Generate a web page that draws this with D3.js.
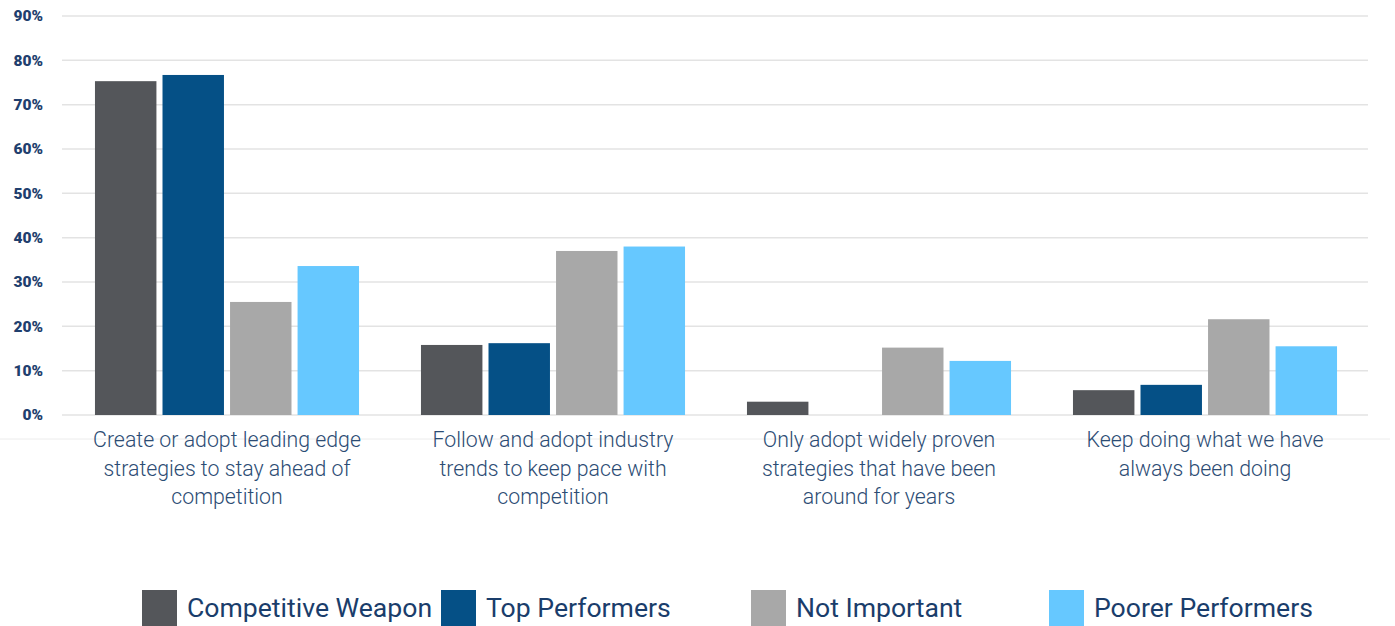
<!DOCTYPE html>
<html>
<head>
<meta charset="utf-8">
<script src="https://cdn.jsdelivr.net/npm/d3@7"></script>
<style>
  body { margin: 0; background: #fff; }
  svg { display: block; font-family: Roboto, "Open Sans", sans-serif; }
</style>
</head>
<body>
<div id="chart"></div>
<script>
const categories = [
  ['Create or adopt leading edge', 'strategies to stay ahead of', 'competition'],
  ['Follow and adopt industry', 'trends to keep pace with', 'competition'],
  ['Only adopt widely proven', 'strategies that have been', 'around for years'],
  ['Keep doing what we have', 'always been doing']
];
const seriesNames = ['Competitive Weapon', 'Top Performers', 'Not Important', 'Poorer Performers'];
const competitiveWeapon = [75.3, 15.8, 3.0, 5.6];
const topPerformers = [76.7, 16.2, 0, 6.8];
const notImportant = [25.5, 37.0, 15.2, 21.6];
const poorerPerformers = [33.6, 38.0, 12.2, 15.5];
const yTicks = [0, 10, 20, 30, 40, 50, 60, 70, 80, 90];
const colors = ['#54565a', '#055086', '#a8a8a8', '#66c8ff'];

const seriesValues = [competitiveWeapon, topPerformers, notImportant, poorerPerformers];

const width = 1395, height = 626;
const margin = { left: 64, right: 27, top: 16, bottom: 211 };

const svg = d3.select('#chart').append('svg')
  .attr('width', width)
  .attr('height', height);

const x0 = d3.scaleBand()
  .domain(d3.range(categories.length))
  .range([margin.left, width - margin.right])
  .paddingInner(0.19)
  .paddingOuter(0.095);

const x1 = d3.scaleBand()
  .domain(d3.range(seriesNames.length))
  .range([0, x0.bandwidth()])
  .paddingInner(0.09);

const y = d3.scaleLinear()
  .domain([0, 90])
  .range([height - margin.bottom, margin.top]);

// gridlines
svg.append('g')
  .selectAll('line')
  .data(yTicks)
  .join('line')
  .attr('x1', 62)
  .attr('x2', width - margin.right)
  .attr('y1', d => y(d))
  .attr('y2', d => y(d))
  .attr('stroke', '#e3e3e3')
  .attr('stroke-width', 1.5);

// y labels
const yAxis = d3.axisLeft(y)
  .tickValues(yTicks)
  .tickFormat(d => d + '%')
  .tickSize(0)
  .tickPadding(0);

svg.append('g')
  .attr('transform', 'translate(43,0)')
  .call(yAxis)
  .call(g => g.select('.domain').remove())
  .selectAll('text')
  .attr('font-family', 'Roboto, sans-serif')
  .attr('font-size', 15.5)
  .attr('font-weight', 900)
  .attr('fill', '#1f3f6e');

// faint separator under the axis
svg.append('line')
  .attr('x1', 0)
  .attr('x2', 1390)
  .attr('y1', 439)
  .attr('y2', 439)
  .attr('stroke', '#ececec')
  .attr('stroke-width', 1);

// bars
const groups = svg.append('g')
  .selectAll('g')
  .data(categories.map((c, i) => i))
  .join('g')
  .attr('transform', i => `translate(${x0(i)},0)`);

groups.selectAll('rect')
  .data(i => seriesValues.map((vals, s) => ({ s, v: vals[i] })))
  .join('rect')
  .attr('x', d => x1(d.s))
  .attr('width', x1.bandwidth())
  .attr('y', d => y(d.v))
  .attr('height', d => y(0) - y(d.v))
  .attr('fill', d => colors[d.s]);

// category labels
const labels = svg.append('g')
  .selectAll('text')
  .data(categories)
  .join('text')
  .attr('text-anchor', 'middle')
  .attr('font-family', 'Roboto, sans-serif')
  .attr('font-weight', 300)
  .attr('font-size', 21.3)
  .attr('fill', '#2c4c74')
  .attr('transform', (d, i) => `translate(${x0(i) + x0.bandwidth() / 2},447)`);

labels.selectAll('tspan')
  .data(d => d)
  .join('tspan')
  .attr('x', 0)
  .attr('dy', (d, i) => i === 0 ? 0 : 28.5)
  .text(d => d);

// legend
const legendX = [142, 441, 751, 1049];
const legend = svg.append('g')
  .selectAll('g')
  .data(seriesNames)
  .join('g')
  .attr('transform', (d, i) => `translate(${legendX[i]},590)`);

legend.append('rect')
  .attr('width', 35)
  .attr('height', 36)
  .attr('fill', (d, i) => colors[i]);

legend.append('text')
  .attr('x', 45)
  .attr('y', 27)
  .attr('font-family', 'Roboto, sans-serif')
  .attr('font-size', 26.6)
  .attr('fill', '#1a3d6b')
  .text(d => d);
</script>
</body>
</html>
